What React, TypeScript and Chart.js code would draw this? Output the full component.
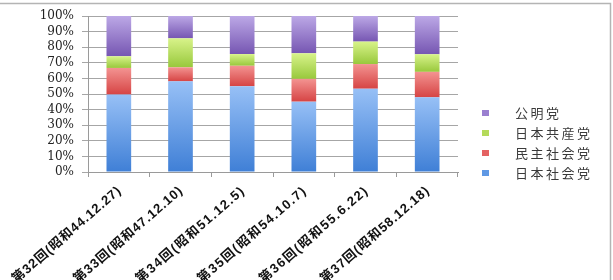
import React, { useEffect, useRef } from "react";
import { Chart, registerables } from "chart.js";

Chart.register(...registerables);

const categories = [
  "第32回(昭和44.12.27)",
  "第33回(昭和47.12.10)",
  "第34回(昭和51.12.5)",
  "第35回(昭和54.10.7)",
  "第36回(昭和55.6.22)",
  "第37回(昭和58.12.18)",
];
const seriesNames = ["日本社会党", "民主社会党", "日本共産党", "公明党"];
const jsp = [49.6, 58.1, 55.0, 45.1, 53.4, 47.9];
const dsp = [17.1, 9.0, 13.1, 14.6, 15.8, 16.3];
const jcp = [7.5, 18.6, 7.5, 16.4, 14.4, 11.3];
const komei = [25.8, 14.3, 24.4, 23.9, 16.4, 24.5];
const series = [jsp, dsp, jcp, komei];
const yTicks = [0, 10, 20, 30, 40, 50, 60, 70, 80, 90, 100];

const lightColors = ["#97c0f6", "#f39391", "#d8f38a", "#bca8e6"];
const darkColors = ["#3f7fd6", "#d64444", "#98c83c", "#7656b2"];
const solidColors = ["#5f98e4", "#e46262", "#b4da5a", "#9a7fd0"];

export default function App() {
  const ref = useRef<HTMLCanvasElement | null>(null);

  useEffect(() => {
    document.body.style.margin = "0";
    const canvas = ref.current;
    if (!canvas) return;

    const makeBg = (di: number) => (ctx: any) => {
      const chart = ctx.chart;
      const ys = chart.scales && chart.scales.y;
      if (!ys || ctx.type !== "data") return solidColors[di];
      const i = ctx.dataIndex;
      let start = 0;
      for (let k = 0; k < di; k++) start += series[k][i];
      const end = start + series[di][i];
      const yTop = ys.getPixelForValue(end);
      const yBot = ys.getPixelForValue(start);
      if (!isFinite(yTop) || !isFinite(yBot) || yTop === yBot) return solidColors[di];
      const g = chart.ctx.createLinearGradient(0, yTop, 0, yBot);
      g.addColorStop(0, lightColors[di]);
      g.addColorStop(1, darkColors[di]);
      return g;
    };

    const decor = {
      id: "decor",
      afterDraw(chart: any) {
        const c = chart.ctx;
        c.save();
        // frame
        c.strokeStyle = "#b4b4b4";
        c.lineWidth = 1.5;
        c.beginPath();
        c.moveTo(0, 3.5);
        c.lineTo(610.5, 3.5);
        c.lineTo(610.5, 280);
        c.stroke();

        // rotated category labels
        const xs = chart.scales.x;
        const ang = (-41 * Math.PI) / 180;
        c.font = 'bold 13px "Liberation Sans", "Noto Sans CJK JP"';
        c.fillStyle = "#111";
        c.textAlign = "right";
        c.textBaseline = "middle";
        categories.forEach((lab, i) => {
          (c as any).letterSpacing = "0px";
          const w = c.measureText(lab).width;
          const sp = Math.max(0, (140 - w) / lab.length);
          (c as any).letterSpacing = sp.toFixed(2) + "px";
          const x = xs.getPixelForValue(i);
          c.save();
          c.translate(x + sp, 189);
          c.rotate(ang);
          c.fillText(lab, 0, 0);
          c.restore();
        });
        (c as any).letterSpacing = "0px";

        // legend (reversed order)
        const order = [3, 2, 1, 0];
        order.forEach((di, row) => {
          const cy = 113 + row * 20;
          c.fillStyle = solidColors[di];
          c.fillRect(482, cy - 3, 7, 6);
          c.fillStyle = "#3a3a3a";
          c.font = '13px "Noto Sans CJK JP"';
          (c as any).letterSpacing = "2.5px";
          c.textBaseline = "middle";
          c.textAlign = "left";
          c.fillText(seriesNames[di], 515, cy);
        });
        (c as any).letterSpacing = "0px";
        c.restore();
      },
    };

    const chart = new Chart(canvas, {
      type: "bar",
      data: {
        labels: categories,
        datasets: series.map((d, di) => ({
          label: seriesNames[di],
          data: d,
          backgroundColor: makeBg(di),
          borderWidth: 0,
          barPercentage: 0.8,
          categoryPercentage: 0.5,
        })),
      },
      options: {
        animation: false,
        responsive: false,
        layout: { padding: { top: 16, right: 155, left: 0, bottom: 0 } },
        plugins: {
          legend: { display: false },
          tooltip: { enabled: false },
        },
        scales: {
          x: {
            stacked: true,
            offset: true,
            grid: {
              display: true,
              offset: true,
              drawOnChartArea: false,
              drawTicks: true,
              tickLength: 5,
              color: "#9a9a9a",
            },
            border: { color: "#9a9a9a" },
            ticks: { display: false, autoSkip: false },
            afterFit(scale: any) {
              scale.height = 108;
              scale.paddingLeft = 0;
              scale.paddingRight = 0;
            },
          },
          y: {
            stacked: true,
            min: 0,
            max: 100,
            afterBuildTicks(scale: any) {
              scale.ticks = yTicks.map((v) => ({ value: v }));
            },
            grid: {
              color: "#a6a6a6",
              tickLength: 6,
              drawTicks: true,
            },
            border: { color: "#9a9a9a" },
            ticks: {
              autoSkip: false,
              padding: 8,
              color: "#222",
              font: { family: '"DejaVu Serif"', size: 12 },
              callback: (v: any) => v + "%",
            },
            afterFit(scale: any) {
              scale.width = 88;
            },
          },
        },
      },
      plugins: [decor],
    });

    return () => chart.destroy();
  }, []);

  return (
    <div style={{ width: 613, height: 280 }}>
      <canvas ref={ref} width={613} height={280} style={{ display: "block" }} />
    </div>
  );
}
